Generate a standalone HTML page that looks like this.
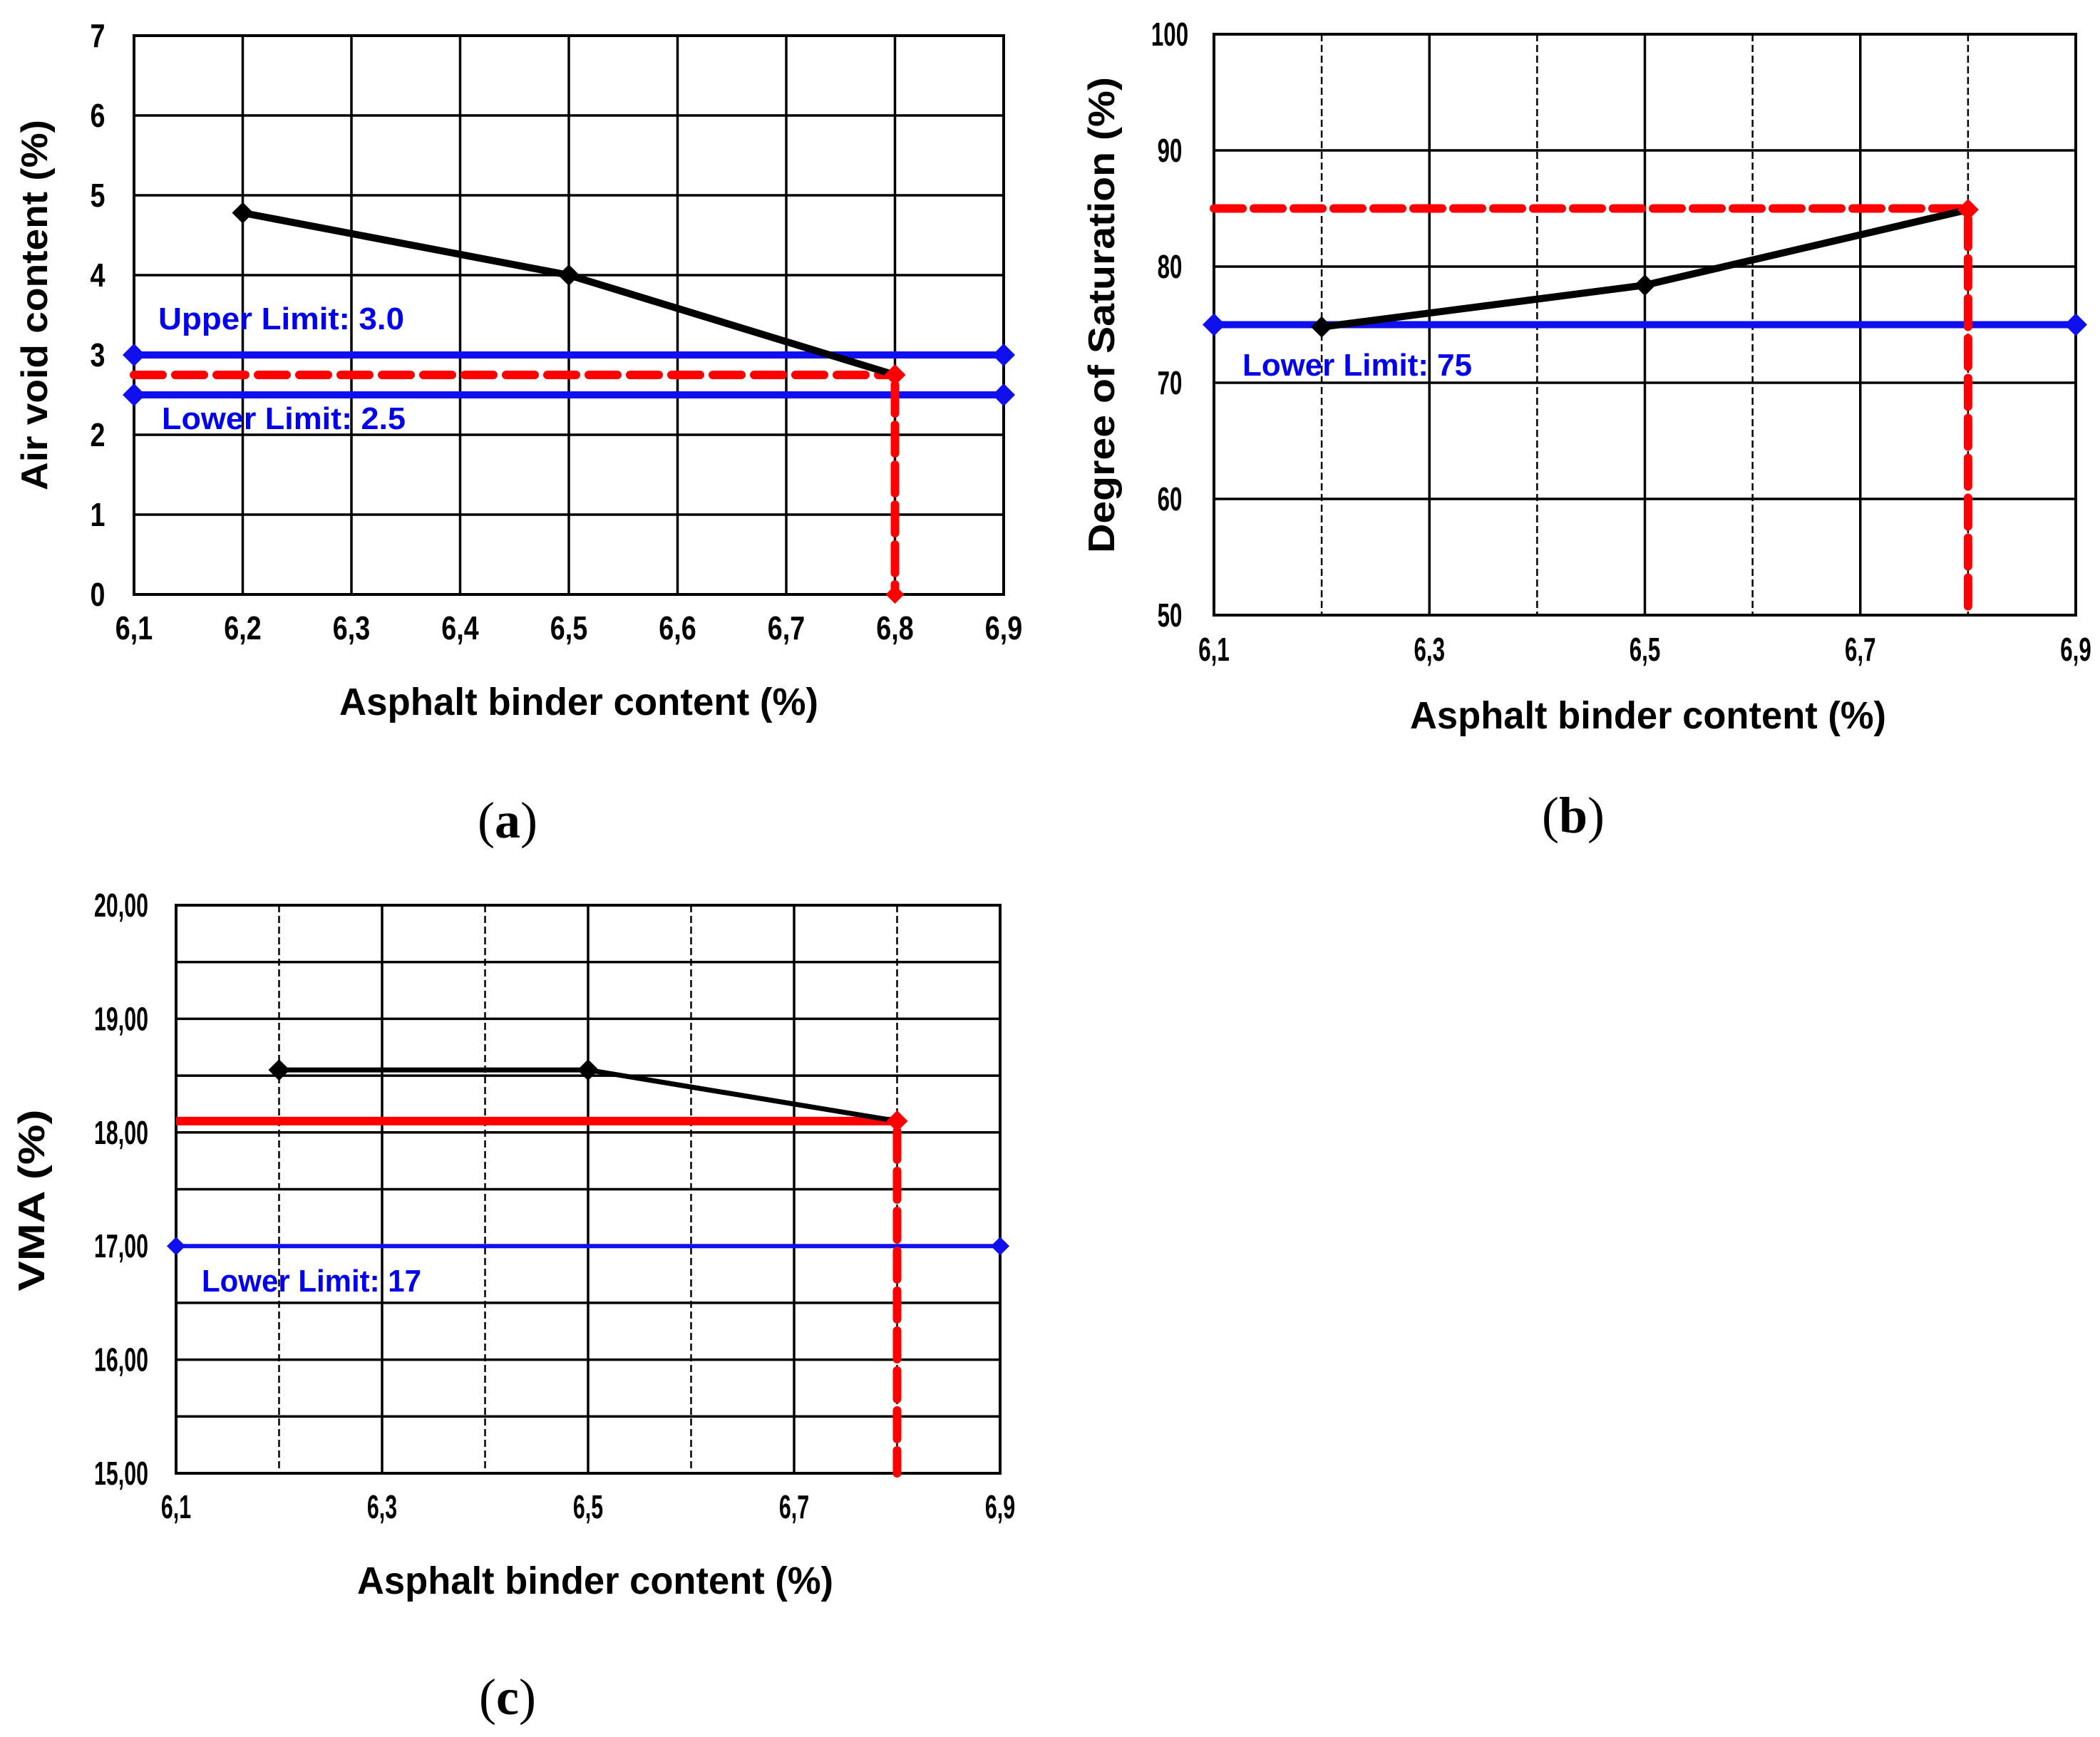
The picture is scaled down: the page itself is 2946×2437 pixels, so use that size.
<!DOCTYPE html>
<html><head><meta charset="utf-8"><style>
html,body{margin:0;padding:0;background:#fff;}
svg{display:block;}
</style></head><body>
<svg id="fig" width="2946" height="2437" viewBox="0 0 2946 2437" xmlns="http://www.w3.org/2000/svg" font-family="Liberation Sans, sans-serif"></svg>
<script>
// ---- data: chart (a) air voids ----
const aX = [6.2, 6.5, 6.8];
const aY = [4.78, 4.0, 2.75];
const aYTicks = ["0","1","2","3","4","5","6","7"];
const aXTicks = ["6,1","6,2","6,3","6,4","6,5","6,6","6,7","6,8","6,9"];
const aUpper = [3.0];
const aLower = [2.5];
const aOpt = [6.8, 2.75];
// ---- data: chart (b) degree of saturation ----
const bX = [6.2, 6.5, 6.8];
const bY = [74.8, 78.4, 84.9];
const bYTicks = ["50","60","70","80","90","100"];
const bXTicks = ["6,1","6,3","6,5","6,7","6,9"];
const bLower = [75];
const bOpt = [6.8, 85];
// ---- data: chart (c) VMA ----
const cX = [6.2, 6.5, 6.8];
const cY = [18.55, 18.55, 18.1];
const cYTicks = ["15,00","16,00","17,00","18,00","19,00","20,00"];
const cXTicks = ["6,1","6,3","6,5","6,7","6,9"];
const cLower = [17];
const cOpt = [6.8, 18.1];

const NS = "http://www.w3.org/2000/svg";
const svg = document.getElementById("fig");
function el(tag, attrs, parent){
  const e = document.createElementNS(NS, tag);
  for (const k in attrs) e.setAttribute(k, attrs[k]);
  (parent||svg).appendChild(e);
  return e;
}
function diamond(g, x, y, r, fill){
  return el("polygon", {points:`${x},${y-r} ${x+r},${y} ${x},${y+r} ${x-r},${y}`, fill:fill}, g);
}

function chart(cfg){
  const g = el("g", {});
  
  
  const sx = v => cfg.L + (v - cfg.x0) / (cfg.x1 - cfg.x0) * (cfg.R - cfg.L);
  const sy = v => cfg.B - (v - cfg.y0) / (cfg.y1 - cfg.y0) * (cfg.B - cfg.T);
  for (let v = cfg.y0; v <= cfg.y1 + 1e-9; v += cfg.yGrid){
    const ln = el("line", {x1:cfg.L, x2:cfg.R, y1:sy(v), y2:sy(v), stroke:"#000", "stroke-width":3.5}, g);
    
    
  }
  for (let i = 0; i <= 8; i++){
    const v = cfg.x0 + i*0.1;
    const dashed = cfg.dashOdd && (i % 2 === 1);
    const ln = el("line", {x1:sx(v), x2:sx(v), y1:cfg.T, y2:cfg.B, stroke:"#000", "stroke-width":dashed?2.5:3.5, "stroke-dasharray":dashed?"10,5":"none"}, g);
    
    
  }
  const fr = el("rect", {x:cfg.L, y:cfg.T, width:cfg.R-cfg.L, height:cfg.B-cfg.T, fill:"none", stroke:"#000", "stroke-width":4}, g);
  
  
  cfg.yTicks.forEach((t, i) => {
    const v = cfg.y0 + i*cfg.yStep;
    const tx = el("text", {x:cfg.yLabX / cfg.tickSX, y:sy(v)+16, "text-anchor":cfg.yAnchor, "font-size":cfg.tickFs, "font-weight":"bold", fill:"#000", transform:`scale(${cfg.tickSX},1)`}, g);
    tx.textContent = t;
    
    
  });
  cfg.xTicks.forEach((t, i) => {
    const v = cfg.x0 + i*cfg.xStep;
    const tx = el("text", {x:sx(v)/cfg.tickSX, y:cfg.xLabY, "text-anchor":"middle", "font-size":cfg.tickFs, "font-weight":"bold", fill:"#000", transform:`scale(${cfg.tickSX},1)`}, g);
    tx.textContent = t;
    
    
  });
  cfg.limits.forEach(lim => {
    const y = sy(lim.v);
    const ln = el("line", {x1:cfg.L, x2:cfg.R, y1:y, y2:y, stroke:"#1010ee", "stroke-width":lim.w}, g);
    
    
    const d1 = diamond(g, cfg.L, y, lim.r, "#1010ee");
    
    
    const d2 = diamond(g, cfg.R, y, lim.r, "#1010ee");
    
    
    const tx = el("text", {x:lim.lx, y:lim.ly, "font-size":44, "font-weight":"bold", fill:"#0000ee", textLength:lim.tl, lengthAdjust:"spacingAndGlyphs"}, g);
    tx.textContent = lim.label;
    
    
  });
  const ox = sx(cfg.opt[0]), oy = sy(cfg.opt[1]);
  const hr = el("line", {x1:cfg.L, x2:ox, y1:oy, y2:oy, stroke:"#ff0000", "stroke-width":cfg.redHW, "stroke-dasharray":cfg.redHDash, "stroke-linecap":cfg.redHDash==="none"?"butt":"round"}, g);
  
  
  const vr = el("line", {x1:ox, x2:ox, y1:oy+14, y2:cfg.B, stroke:"#ff0000", "stroke-width":12, "stroke-dasharray":"40,16", "stroke-linecap":"round"}, g);
  
  
  const pts = cfg.xs.map((x, i) => `${sx(x)},${sy(cfg.ys[i])}`).join(" ");
  const pl = el("polyline", {points:pts, fill:"none", stroke:"#000", "stroke-width":cfg.lineW}, g);
  
  
  cfg.xs.forEach((x, i) => {
    const last = i === cfg.xs.length - 1;
    const d = diamond(g, sx(x), sy(cfg.ys[i]), 15, last ? "#ff0000" : "#000");
    
    
  });
  const od = diamond(g, ox, cfg.B, 13, cfg.bottomDiamond ? "#ff0000" : "none");
  
  
  const xt = el("text", {x:cfg.xtX, y:cfg.xtY, "text-anchor":"middle", "font-size":54, fill:"#000", "font-weight":"bold", textLength:cfg.xtLen, lengthAdjust:"spacingAndGlyphs"}, g);
  xt.textContent = "Asphalt binder content (%)";
  
  
  const yt = el("text", {x:0, y:0, "text-anchor":"middle", "font-size":52, "font-weight":"bold", fill:"#000", transform:`translate(${cfg.ytX},${cfg.ytY}) rotate(-90)`, textLength:cfg.ytLen, lengthAdjust:"spacingAndGlyphs"}, g);
  yt.textContent = cfg.yTitle;
  
  
  const cap = el("text", {x:cfg.capX, y:cfg.capY, "text-anchor":"middle", "font-size":72, fill:"#000", "font-family":"Liberation Serif, serif"}, g);
  cap.innerHTML = '(<tspan font-weight="bold">' + cfg.cap + '</tspan>)';
  
  
}

chart({name:"chart-air-void", L:188, R:1408, T:50, B:834, x0:6.1, x1:6.9, y0:0, y1:7, yGrid:1, yStep:1, xStep:0.1,
  dashOdd:false, yTicks:aYTicks, xTicks:aXTicks, yLabX:137, yAnchor:"middle", xLabY:897, tickFs:46, tickSX:0.82,
  limits:[{v:aUpper[0], w:10, r:16, name:"upper-limit-line", label:"Upper Limit: 3.0", lx:222, ly:462, tl:345},
          {v:aLower[0], w:10, r:16, name:"lower-limit-line", label:"Lower Limit: 2.5", lx:227, ly:602, tl:342}],
  opt:aOpt, redHW:12, redHDash:"40,18", xs:aX, ys:aY, lineW:10, bottomDiamond:true,
  xtX:812, xtY:1003, xtLen:672, ytX:66, ytY:428, ytLen:520, yTitle:"Air void content (%)", capX:712, capY:1175, cap:"a"});

chart({name:"chart-degree-of-saturation", L:1703, R:2912, T:48, B:863, x0:6.1, x1:6.9, y0:50, y1:100, yGrid:10, yStep:10, xStep:0.2,
  dashOdd:true, yTicks:bYTicks, xTicks:bXTicks, yLabX:1641, yAnchor:"middle", xLabY:927, tickFs:46, tickSX:0.68,
  limits:[{v:bLower[0], w:10, r:16, name:"lower-limit-line", label:"Lower Limit: 75", lx:1743, ly:527, tl:322}],
  opt:bOpt, redHW:12, redHDash:"40,16", xs:bX, ys:bY, lineW:10, bottomDiamond:false,
  xtX:2312, xtY:1022, xtLen:668, ytX:1563, ytY:442, ytLen:668, yTitle:"Degree of Saturation (%)", capX:2207, capY:1168, cap:"b"});

chart({name:"chart-vma", L:247, R:1403, T:1270, B:2067, x0:6.1, x1:6.9, y0:15, y1:20, yGrid:0.5, yStep:1, xStep:0.2,
  dashOdd:true, yTicks:cYTicks, xTicks:cXTicks, yLabX:208, yAnchor:"end", xLabY:2130, tickFs:46, tickSX:0.66,
  limits:[{v:cLower[0], w:6, r:13, name:"lower-limit-line", label:"Lower Limit: 17", lx:283, ly:1812, tl:308}],
  opt:cOpt, redHW:12, redHDash:"none", xs:cX, ys:cY, lineW:7, bottomDiamond:false,
  xtX:835, xtY:2236, xtLen:668, ytX:62, ytY:1684, ytLen:255, yTitle:"VMA (%)", capX:712, capY:2405, cap:"c"});
</script>
</body></html>
